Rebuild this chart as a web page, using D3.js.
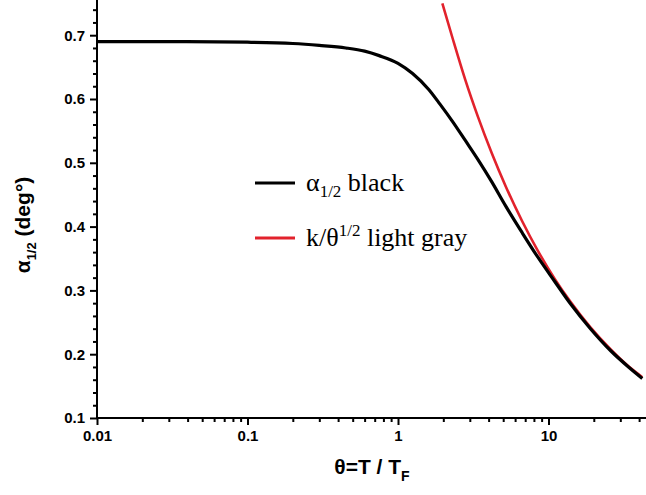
<!DOCTYPE html>
<html>
<head>
<meta charset="utf-8">
<script src="https://cdn.jsdelivr.net/npm/d3@7"></script>
<style>
  html, body { margin: 0; padding: 0; background: #fff; }
  svg { display: block; overflow: hidden; }
  .axis path, .axis line { stroke: #000; stroke-width: 2; }
  .axis text { font-family: 'Liberation Sans', Arial, sans-serif; font-weight: bold; font-size: 15px; fill: #000; }
</style>
</head>
<body>
<svg id="svg" width="646" height="495"></svg>
<script>
'use strict';

// theta = T / T_F, alpha_1/2 in degrees
const thetaBlack = [0.01, 0.03, 0.1, 0.2, 0.3, 0.45, 0.6, 0.75, 1.0, 1.25, 1.6, 1.9, 2.3, 2.8, 3.4, 4.2, 5.2, 6.7, 8.5, 11, 14, 19, 26, 34, 42];
const alphaBlack = [0.690, 0.690, 0.689, 0.687, 0.684, 0.680, 0.675, 0.668, 0.656, 0.640, 0.615, 0.592, 0.565, 0.535, 0.505, 0.470, 0.432, 0.390, 0.352, 0.314, 0.279, 0.240, 0.205, 0.180, 0.162];

// k / theta^1/2 curve
const thetaRed = [1.97, 2.3, 2.8, 3.4, 4.2, 5.2, 6.7, 8.5, 11, 14, 19, 26, 34, 42];
const alphaRed = [0.750, 0.696, 0.630, 0.572, 0.515, 0.463, 0.408, 0.362, 0.318, 0.282, 0.242, 0.207, 0.181, 0.164];

const xTicks = [0.01, 0.1, 1, 10];
const xTickLabels = ['0.01', '0.1', '1', '10'];
const yTicks = [0.1, 0.2, 0.3, 0.4, 0.5, 0.6, 0.7];

const RED = '#e2222c';

const svg = d3.select('#svg');

const x = d3.scaleLog().domain([0.01, 50]).range([97, 653.7]);
const y = d3.scaleLinear().domain([0.1, 0.75]).range([418, 3.3]);

// minor ticks
const xMinor = [];
[0.01, 0.1, 1, 10].forEach(d => {
  for (let i = 2; i <= 9; i++) xMinor.push(d * i);
});
const yMinor = d3.range(0.12, 0.75, 0.02).filter(v => Math.abs(v * 10 - Math.round(v * 10)) > 1e-6);

svg.append('g')
  .attr('class', 'axis')
  .attr('transform', 'translate(0,418)')
  .call(d3.axisBottom(x).tickValues(xMinor).tickSize(4).tickFormat(''))
  .call(g => g.select('.domain').remove());

svg.append('g')
  .attr('class', 'axis')
  .attr('transform', 'translate(0,418)')
  .call(d3.axisBottom(x).tickValues(xTicks).tickSize(7).tickPadding(5)
    .tickFormat((d, i) => xTickLabels[i]))
  .call(g => g.select('.domain').attr('d', 'M97,0H660'));

svg.append('g')
  .attr('class', 'axis')
  .attr('transform', 'translate(97,0)')
  .call(d3.axisLeft(y).tickValues(yMinor).tickSize(4).tickFormat(''))
  .call(g => g.select('.domain').remove());

svg.append('g')
  .attr('class', 'axis')
  .attr('transform', 'translate(97,0)')
  .call(d3.axisLeft(y).tickValues(yTicks).tickSize(7).tickPadding(5).tickFormat(d3.format('.1f')))
  .call(g => g.select('.domain').attr('d', 'M0,0V419'));

// curves
const line = d3.line()
  .x(d => x(d[0]))
  .y(d => y(d[1]))
  .curve(d3.curveMonotoneX);

svg.append('path')
  .datum(thetaRed.map((t, i) => [t, alphaRed[i]]))
  .attr('fill', 'none')
  .attr('stroke', RED)
  .attr('stroke-width', 2.6)
  .attr('d', line);

svg.append('path')
  .datum(thetaBlack.map((t, i) => [t, alphaBlack[i]]))
  .attr('fill', 'none')
  .attr('stroke', '#000')
  .attr('stroke-width', 3.2)
  .attr('d', line);

// axis titles
const xTitle = svg.append('text')
  .attr('x', 372)
  .attr('y', 474)
  .attr('text-anchor', 'middle')
  .style('font-family', "'Liberation Sans', Arial, sans-serif")
  .style('font-weight', 'bold')
  .style('font-size', '21px');
xTitle.append('tspan').text('θ=T / T');
xTitle.append('tspan').attr('dy', 7).style('font-size', '14px').text('F');

const yTitle = svg.append('text')
  .attr('transform', 'translate(30,225) rotate(-90)')
  .attr('text-anchor', 'middle')
  .style('font-family', "'Liberation Sans', Arial, sans-serif")
  .style('font-weight', 'bold')
  .style('font-size', '21px');
yTitle.append('tspan').text('α');
yTitle.append('tspan').attr('dy', 6).style('font-size', '13px').text('1/2');
yTitle.append('tspan').attr('dy', -6).text(' (deg°)');

// legend
const legendFont = "'Liberation Serif', 'Times New Roman', serif";
const legend = svg.append('g');
legend.append('line').attr('x1', 255).attr('x2', 295).attr('y1', 183).attr('y2', 183)
  .attr('stroke', '#000').attr('stroke-width', 3);
legend.append('line').attr('x1', 255).attr('x2', 295).attr('y1', 238).attr('y2', 238)
  .attr('stroke', RED).attr('stroke-width', 3);

const l1 = legend.append('text').attr('x', 306).attr('y', 191)
  .style('font-family', legendFont).style('font-size', '26px');
l1.append('tspan').text('α');
l1.append('tspan').attr('dy', 6).style('font-size', '17px').text('1/2');
l1.append('tspan').attr('dy', -6).text(' black');

const l2 = legend.append('text').attr('x', 306).attr('y', 246)
  .style('font-family', legendFont).style('font-size', '26px');
l2.append('tspan').text('k/θ');
l2.append('tspan').attr('dy', -10).style('font-size', '17px').text('1/2');
l2.append('tspan').attr('dy', 10).text(' light gray');
</script>
</body>
</html>
